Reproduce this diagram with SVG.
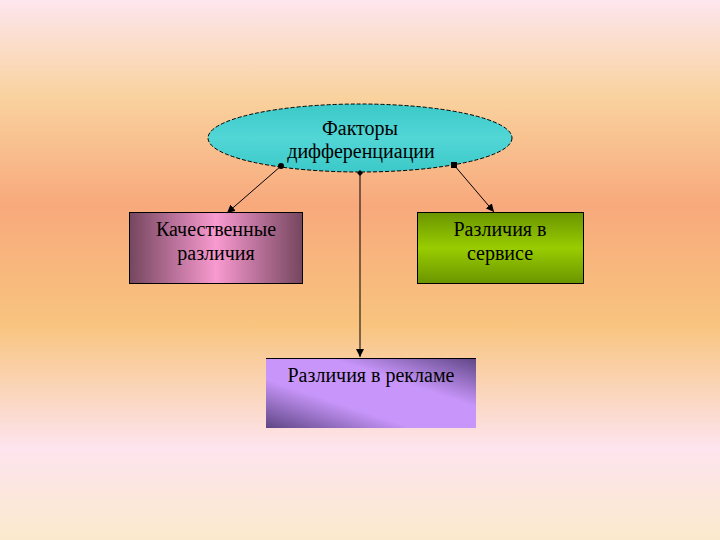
<svg xmlns="http://www.w3.org/2000/svg" width="720" height="540" viewBox="0 0 720 540">
<defs>
<linearGradient id="bg" x1="0" y1="0" x2="0" y2="1">
<stop offset="0" stop-color="#fde6ee"/>
<stop offset="0.18" stop-color="#f9d29e"/>
<stop offset="0.38" stop-color="#f8a97c"/>
<stop offset="0.6" stop-color="#f8c47e"/>
<stop offset="0.83" stop-color="#fde4ee"/>
<stop offset="1" stop-color="#fbe9cc"/>
</linearGradient>
<linearGradient id="gPink" x1="0" y1="0" x2="1" y2="0">
<stop offset="0" stop-color="#75465f"/>
<stop offset="0.5" stop-color="#f99ad0"/>
<stop offset="1" stop-color="#75465f"/>
</linearGradient>
<linearGradient id="gGreen" x1="0" y1="0" x2="0" y2="1">
<stop offset="0" stop-color="#6b9500"/>
<stop offset="0.5" stop-color="#99cc00"/>
<stop offset="1" stop-color="#6b9500"/>
</linearGradient>
<linearGradient id="gPurple" x1="0" y1="1" x2="1" y2="0">
<stop offset="0" stop-color="#5e4585"/>
<stop offset="0.35" stop-color="#c896fa"/>
<stop offset="0.65" stop-color="#c896fa"/>
<stop offset="1" stop-color="#5e4585"/>
</linearGradient>
<linearGradient id="gTeal" x1="0" y1="0" x2="0" y2="1">
<stop offset="0" stop-color="#3cc9c9"/>
<stop offset="0.5" stop-color="#52d6d6"/>
<stop offset="1" stop-color="#3cc9c9"/>
</linearGradient>
<marker id="arr" viewBox="0 0 10 10" refX="10" refY="5" markerWidth="8" markerHeight="8" orient="auto-start-reverse" markerUnits="userSpaceOnUse">
<path d="M0,0 L10,5 L0,10 z" fill="#000"/>
</marker>
<marker id="dot" viewBox="0 0 10 10" refX="5" refY="5" markerWidth="6" markerHeight="6" markerUnits="userSpaceOnUse">
<circle cx="5" cy="5" r="5" fill="#000"/>
</marker>
<marker id="dia" viewBox="0 0 10 10" refX="5" refY="5" markerWidth="6" markerHeight="6" markerUnits="userSpaceOnUse">
<path d="M5,0 L10,5 L5,10 L0,5 z" fill="#000"/>
</marker>
<marker id="sq" viewBox="0 0 10 10" refX="5" refY="5" markerWidth="6" markerHeight="6" markerUnits="userSpaceOnUse">
<rect x="0" y="0" width="10" height="10" fill="#000"/>
</marker>
</defs>
<style>
text{font-family:"Liberation Serif","Times New Roman",serif;font-size:20px;fill:#000;text-anchor:middle}
.box{stroke:#000;stroke-width:1}
.c{stroke:#000;stroke-width:1;fill:none}
</style>
<rect x="0" y="0" width="720" height="540" fill="url(#bg)"/>
<g id="factors">
<ellipse cx="360" cy="138" rx="152" ry="34" fill="url(#gTeal)" stroke="#000" stroke-width="1" stroke-dasharray="4,2"/>
<text x="360" y="135">Факторы</text>
<text x="361" y="158">дифференциации</text>
</g>
<g id="quality">
<rect class="box" x="129.5" y="212.5" width="173" height="71" fill="url(#gPink)"/>
<text x="216" y="236">Качественные</text>
<text x="216" y="260">различия</text>
</g>
<g id="service">
<rect class="box" x="417.5" y="212.5" width="166" height="71" fill="url(#gGreen)"/>
<text x="500" y="236">Различия в</text>
<text x="500" y="260">сервисе</text>
</g>
<g id="ads">
<rect x="266" y="358" width="210" height="70" fill="url(#gPurple)"/>
<line x1="266" y1="358.5" x2="476" y2="358.5" stroke="#000" stroke-width="1"/>
<text x="371" y="382">Различия в рекламе</text>
</g>
<g id="connectors">
<line class="c" x1="281" y1="166" x2="227" y2="213" marker-start="url(#dot)" marker-end="url(#arr)"/>
<line class="c" x1="360" y1="173" x2="360" y2="357" marker-start="url(#dia)" marker-end="url(#arr)"/>
<line class="c" x1="454" y1="165" x2="494" y2="212" marker-start="url(#sq)" marker-end="url(#arr)"/>
</g>
</svg>
